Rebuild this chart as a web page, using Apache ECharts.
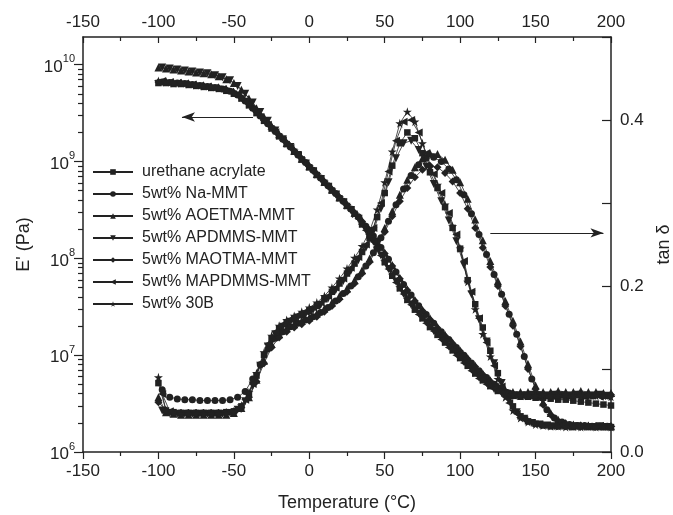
<!DOCTYPE html>
<html>
<head>
<meta charset="utf-8">
<script src="https://cdn.jsdelivr.net/npm/echarts@6/dist/echarts.min.js"></script>
<style>
html,body{margin:0;padding:0;background:#fff;}
#main{width:673px;height:515px;}
</style>
</head>
<body>
<div id="main"></div>
<script>
// temperature grids (two interleaved sample grids, deg C)
var tempsA = [-100,-95,-90,-85,-80,-75,-70,-65,-60,-55,-50,-45,-40,-35,-30,-25,-20,-15,-10,-5,0,5,10,15,20,25,30,35,40,45,50,55,60,65,70,75,80,85,90,95,100,105,110,115,120,125,130,135,140,145,150,155,160,165,170,175,180,185,190,195,200];
var tempsB = [-97.5,-92.5,-87.5,-82.5,-77.5,-72.5,-67.5,-62.5,-57.5,-52.5,-47.5,-42.5,-37.5,-32.5,-27.5,-22.5,-17.5,-12.5,-7.5,-2.5,2.5,7.5,12.5,17.5,22.5,27.5,32.5,37.5,42.5,47.5,52.5,57.5,62.5,67.5,72.5,77.5,82.5,87.5,92.5,97.5,102.5,107.5,112.5,117.5,122.5,127.5,132.5,137.5,142.5,147.5,152.5,157.5,162.5,167.5,172.5,177.5,182.5,187.5,192.5,197.5];

var names = ['urethane acrylate','5wt% Na-MMT','5wt% AOETMA-MMT','5wt% APDMMS-MMT','5wt% MAOTMA-MMT','5wt% MAPDMMS-MMT','5wt% 30B'];

// storage modulus E' (Pa)
var eUA = [6.46e9,6.46e9,6.31e9,6.31e9,6.17e9,6.03e9,5.89e9,5.75e9,5.62e9,5.37e9,5.01e9,4.47e9,3.80e9,3.16e9,2.63e9,2.19e9,1.82e9,1.51e9,1.26e9,1.05e9,8.71e8,7.24e8,6.03e8,5.01e8,4.17e8,3.47e8,2.88e8,2.24e8,1.70e8,1.26e8,9.12e7,6.61e7,4.90e7,3.72e7,2.95e7,2.40e7,1.95e7,1.62e7,1.35e7,1.12e7,9.33e6,7.76e6,6.46e6,5.50e6,4.79e6,4.27e6,3.98e6,3.80e6,3.72e6,3.72e6,3.63e6,3.63e6,3.55e6,3.47e6,3.47e6,3.39e6,3.31e6,3.24e6,3.16e6,3.09e6,3.02e6];
var eNa = [6.61e9,6.53e9,6.46e9,6.38e9,6.24e9,6.10e9,5.96e9,5.82e9,5.62e9,5.31e9,4.85e9,4.22e9,3.55e9,2.95e9,2.45e9,2.04e9,1.70e9,1.41e9,1.17e9,9.77e8,8.13e8,6.76e8,5.62e8,4.68e8,3.89e8,3.24e8,2.69e8,2.14e8,1.70e8,1.29e8,9.77e7,7.24e7,5.37e7,4.17e7,3.24e7,2.63e7,2.14e7,1.74e7,1.45e7,1.20e7,1.00e7,8.32e6,6.92e6,5.89e6,5.01e6,4.47e6,4.07e6,3.89e6,3.89e6,3.80e6,3.89e6,3.80e6,3.80e6,3.89e6,3.80e6,3.89e6,3.80e6,3.80e6,3.89e6,3.80e6];
var eAOETMA = [9.33e9,9.12e9,8.91e9,8.71e9,8.51e9,8.32e9,8.13e9,7.94e9,7.59e9,7.08e9,6.46e9,5.50e9,4.47e9,3.55e9,2.88e9,2.34e9,1.91e9,1.55e9,1.29e9,1.07e9,8.91e8,7.41e8,6.17e8,5.13e8,4.27e8,3.55e8,2.95e8,2.45e8,1.95e8,1.51e8,1.15e8,8.51e7,6.31e7,4.79e7,3.72e7,2.95e7,2.40e7,1.95e7,1.62e7,1.35e7,1.12e7,9.33e6,7.76e6,6.46e6,5.50e6,4.79e6,4.37e6,4.17e6,4.17e6,4.17e6,4.27e6,4.17e6,4.17e6,4.27e6,4.17e6,4.17e6,4.27e6,4.17e6,4.17e6,4.07e6,4.07e6];
var eAPDMMS = [9.33e9,9.12e9,8.91e9,8.71e9,8.51e9,8.32e9,8.13e9,7.76e9,7.41e9,6.92e9,6.03e9,5.01e9,4.07e9,3.24e9,2.63e9,2.09e9,1.70e9,1.41e9,1.17e9,9.55e8,7.94e8,6.61e8,5.50e8,4.57e8,3.80e8,3.16e8,2.57e8,1.95e8,1.48e8,1.07e8,7.76e7,5.75e7,4.27e7,3.31e7,2.69e7,2.19e7,1.78e7,1.48e7,1.23e7,1.02e7,8.51e6,7.08e6,5.89e6,5.13e6,4.47e6,4.07e6,3.89e6,3.80e6,3.80e6,3.89e6,3.80e6,3.80e6,3.89e6,3.80e6,3.80e6,3.89e6,3.80e6,3.80e6,3.89e6,3.80e6];
var eMAOTMA = [6.61e9,6.61e9,6.46e9,6.46e9,6.31e9,6.17e9,6.03e9,5.89e9,5.75e9,5.50e9,5.13e9,4.57e9,3.89e9,3.24e9,2.69e9,2.24e9,1.86e9,1.55e9,1.29e9,1.07e9,8.91e8,7.41e8,6.17e8,5.13e8,4.27e8,3.55e8,2.95e8,2.40e8,1.91e8,1.48e8,1.12e8,8.32e7,6.17e7,4.68e7,3.63e7,2.88e7,2.34e7,1.91e7,1.58e7,1.32e7,1.10e7,9.12e6,7.59e6,6.31e6,5.37e6,4.68e6,4.17e6,3.98e6,3.89e6,3.80e6,3.80e6,3.89e6,3.80e6,3.89e6,3.80e6,3.89e6,3.80e6,3.80e6,3.89e6,3.80e6,3.89e6];
var eMAPDMMS = [6.76e9,6.61e9,6.46e9,6.38e9,6.24e9,6.10e9,5.96e9,5.82e9,5.62e9,5.25e9,4.79e9,4.17e9,3.47e9,2.88e9,2.40e9,2.00e9,1.66e9,1.38e9,1.15e9,9.55e8,7.94e8,6.61e8,5.50e8,4.57e8,3.80e8,3.16e8,2.57e8,1.95e8,1.48e8,1.07e8,7.76e7,5.62e7,4.27e7,3.31e7,2.63e7,2.14e7,1.78e7,1.45e7,1.20e7,1.00e7,8.32e6,6.92e6,5.75e6,5.01e6,4.47e6,4.07e6,3.89e6,3.80e6,3.80e6,3.72e6,3.80e6,3.72e6,3.80e6,3.80e6,3.72e6,3.80e6,3.72e6,3.80e6,3.72e6,3.72e6];
var e30B = [6.76e9,6.61e9,6.46e9,6.46e9,6.31e9,6.17e9,6.03e9,5.89e9,5.75e9,5.50e9,5.13e9,4.57e9,3.89e9,3.24e9,2.69e9,2.24e9,1.86e9,1.55e9,1.29e9,1.07e9,8.91e8,7.41e8,6.17e8,5.13e8,4.27e8,3.55e8,2.88e8,2.29e8,1.74e8,1.29e8,9.33e7,6.76e7,5.01e7,3.80e7,3.02e7,2.45e7,2.00e7,1.66e7,1.38e7,1.15e7,9.55e6,7.94e6,6.61e6,5.62e6,4.90e6,4.37e6,4.07e6,3.89e6,3.80e6,3.80e6,3.80e6,3.89e6,3.80e6,3.80e6,3.89e6,3.80e6,3.80e6,3.89e6,3.80e6,3.80e6,3.72e6];

// loss factor tan delta
var tUA = [0.083,0.05,0.048,0.047,0.047,0.047,0.047,0.047,0.047,0.048,0.049,0.055,0.07,0.092,0.117,0.136,0.148,0.155,0.16,0.165,0.17,0.176,0.184,0.193,0.203,0.215,0.227,0.241,0.258,0.283,0.312,0.345,0.372,0.385,0.378,0.36,0.337,0.318,0.295,0.27,0.245,0.207,0.178,0.15,0.122,0.095,0.072,0.055,0.043,0.037,0.034,0.032,0.031,0.031,0.031,0.03,0.031,0.03,0.031,0.03,0.03];
var tNa = [0.075,0.066,0.064,0.063,0.063,0.062,0.062,0.062,0.062,0.063,0.066,0.073,0.088,0.105,0.124,0.137,0.145,0.151,0.155,0.159,0.163,0.168,0.174,0.182,0.191,0.2,0.211,0.224,0.24,0.258,0.278,0.298,0.317,0.333,0.346,0.354,0.355,0.35,0.341,0.328,0.31,0.287,0.262,0.238,0.214,0.19,0.166,0.142,0.115,0.088,0.066,0.051,0.041,0.036,0.033,0.032,0.032,0.031,0.031,0.031];
var tAOETMA = [0.066,0.048,0.046,0.045,0.045,0.045,0.045,0.045,0.045,0.045,0.047,0.053,0.066,0.087,0.11,0.13,0.142,0.149,0.154,0.158,0.162,0.167,0.173,0.18,0.188,0.197,0.207,0.219,0.233,0.25,0.27,0.29,0.31,0.328,0.343,0.354,0.36,0.359,0.352,0.34,0.325,0.305,0.28,0.255,0.23,0.206,0.182,0.158,0.133,0.106,0.08,0.06,0.047,0.039,0.035,0.033,0.032,0.032,0.031,0.031,0.031];
var tAPDMMS = [0.05,0.047,0.046,0.046,0.046,0.046,0.046,0.046,0.046,0.047,0.051,0.061,0.08,0.104,0.127,0.142,0.151,0.157,0.162,0.166,0.171,0.177,0.185,0.195,0.206,0.218,0.231,0.246,0.266,0.293,0.325,0.354,0.372,0.375,0.364,0.344,0.323,0.302,0.279,0.254,0.225,0.19,0.16,0.133,0.107,0.083,0.062,0.048,0.04,0.035,0.033,0.032,0.031,0.031,0.03,0.031,0.03,0.03,0.031,0.03];
var tMAOTMA = [0.06,0.05,0.048,0.047,0.047,0.047,0.047,0.047,0.047,0.048,0.049,0.054,0.066,0.085,0.107,0.126,0.138,0.145,0.15,0.154,0.158,0.163,0.169,0.176,0.184,0.193,0.203,0.215,0.229,0.246,0.265,0.284,0.302,0.318,0.331,0.34,0.345,0.343,0.336,0.326,0.312,0.293,0.27,0.246,0.223,0.2,0.176,0.152,0.127,0.1,0.076,0.057,0.045,0.037,0.034,0.032,0.032,0.031,0.031,0.031,0.031];
var tMAPDMMS = [0.07,0.049,0.047,0.047,0.047,0.047,0.047,0.047,0.047,0.048,0.052,0.063,0.082,0.107,0.13,0.145,0.154,0.16,0.165,0.169,0.174,0.18,0.188,0.198,0.209,0.222,0.235,0.25,0.27,0.3,0.338,0.375,0.398,0.4,0.385,0.36,0.335,0.312,0.288,0.262,0.23,0.193,0.161,0.132,0.104,0.079,0.059,0.046,0.039,0.035,0.033,0.032,0.031,0.031,0.031,0.03,0.031,0.03,0.031,0.03];
var t30B = [0.09,0.05,0.047,0.046,0.046,0.046,0.046,0.046,0.046,0.046,0.048,0.056,0.072,0.095,0.12,0.14,0.152,0.159,0.164,0.169,0.174,0.18,0.188,0.198,0.209,0.221,0.234,0.248,0.266,0.292,0.325,0.362,0.396,0.41,0.398,0.372,0.343,0.322,0.298,0.272,0.245,0.205,0.172,0.142,0.115,0.088,0.066,0.05,0.041,0.036,0.033,0.032,0.031,0.031,0.03,0.031,0.03,0.031,0.03,0.031,0.03];

var yTicksE = [1e6, 1e7, 1e8, 1e9, 1e10];
var yTicksTan = [0.0, 0.2, 0.4];

var starPath = 'path://M50,0 L61,35 L98,35 L68,57 L79,91 L50,70 L21,91 L32,57 L2,35 L39,35 Z';
var samples = [
    {name: names[0], symbol: 'rect', size: 6.5, rot: 0, temps: tempsA, e: eUA, t: tUA},
    {name: names[1], symbol: 'circle', size: 7, rot: 0, temps: tempsB, e: eNa, t: tNa},
    {name: names[2], symbol: 'triangle', size: 8, rot: 0, temps: tempsA, e: eAOETMA, t: tAOETMA},
    {name: names[3], symbol: 'triangle', size: 8, rot: 180, temps: tempsB, e: eAPDMMS, t: tAPDMMS},
    {name: names[4], symbol: 'diamond', size: 8, rot: 0, temps: tempsA, e: eMAOTMA, t: tMAOTMA},
    {name: names[5], symbol: 'triangle', size: 8, rot: 90, temps: tempsB, e: eMAPDMMS, t: tMAPDMMS},
    {name: names[6], symbol: starPath, size: 9, rot: 0, temps: tempsA, e: e30B, t: t30B}
];

var ink = '#222';
var font = 'Liberation Sans, Arial, sans-serif';
var eMax = 1.93e10;

// minor ticks of the log axis, in decades
var minorLog = [];
for (var d = 6; d <= 10; d++) {
    for (var k = 2; k <= 9; k++) {
        var v = d + Math.log10(k);
        if (v < Math.log10(eMax)) minorLog.push(v);
    }
}

var series = [];
samples.forEach(function (s, i) {
    var base = {
        name: s.name,
        type: 'line',
        symbol: s.symbol,
        symbolSize: s.size,
        symbolRotate: s.rot,
        lineStyle: {color: ink, width: 0.8},
        itemStyle: {color: ink},
        animation: false
    };
    series.push(Object.assign({}, base, {
        yAxisIndex: 0,
        data: s.temps.map(function (t, k) { return [t, s.e[k]]; })
    }));
    series.push(Object.assign({}, base, {
        yAxisIndex: 1,
        data: s.temps.map(function (t, k) { return [t, s.t[k]]; })
    }));
});

// arrows pointing to the axis each curve belongs to
series[0].markLine = {
    silent: true, symbol: ['none', 'arrow'], symbolSize: [7, 13],
    label: {show: false}, lineStyle: {color: ink, width: 1, type: 'solid'},
    data: [[{coord: [-37.3, 2.88e9]}, {coord: [-84.4, 2.88e9]}]]
};
series[1].markLine = {
    silent: true, symbol: ['none', 'arrow'], symbolSize: [7, 13],
    label: {show: false}, lineStyle: {color: ink, width: 1, type: 'solid'},
    data: [[{coord: [120, 0.264]}, {coord: [195, 0.264]}]]
};

var chart = echarts.init(document.getElementById('main'));
var option = {
    backgroundColor: '#fff',
    animation: false,
    textStyle: {fontFamily: font, color: ink},
    grid: {left: 83, right: 62, top: 37, bottom: 63, outerBoundsMode: 'none', containLabel: false},
    legend: {
        data: names,
        orient: 'vertical',
        left: 87,
        top: 158,
        itemWidth: 40,
        itemHeight: 7,
        itemGap: 4,
        textStyle: {fontFamily: font, fontSize: 16, color: ink, lineHeight: 18, padding: [0, 0, 0, 4]}
    },
    xAxis: [{
        type: 'value', position: 'bottom', min: -150, max: 200, interval: 50,
        name: 'Temperature (\u00B0C)', nameLocation: 'middle', nameGap: 42,
        nameTextStyle: {fontSize: 18, color: ink, fontFamily: font},
        axisLine: {show: true, onZero: false, lineStyle: {color: ink, width: 1.5}},
        axisTick: {show: true, inside: false, length: 7, lineStyle: {color: ink, width: 1.2}},
        minorTick: {show: true, splitNumber: 2, length: 4, lineStyle: {color: ink, width: 1.2}},
        axisLabel: {fontSize: 17, color: ink, margin: 11, fontFamily: font},
        splitLine: {show: false}
    }, {
        type: 'value', position: 'top', min: -150, max: 200, interval: 50,
        axisLine: {show: true, onZero: false, lineStyle: {color: ink, width: 1.5}},
        axisTick: {show: true, inside: true, length: 6, lineStyle: {color: ink, width: 1.2}},
        minorTick: {show: true, splitNumber: 2, length: 4, lineStyle: {color: ink, width: 1.2}},
        axisLabel: {fontSize: 17, color: ink, margin: 6, fontFamily: font},
        splitLine: {show: false}
    }],
    yAxis: [{
        type: 'log', logBase: 10, min: 1e6, max: eMax, position: 'left',
        name: "E' (Pa)", nameLocation: 'middle', nameGap: 48,
        nameTextStyle: {fontSize: 18, color: ink, fontFamily: font},
        axisLine: {show: true, onZero: false, lineStyle: {color: ink, width: 1.5}},
        axisTick: {show: true, inside: false, length: 9, lineStyle: {color: ink, width: 1.2},
                   customValues: yTicksE},
        axisLabel: {
            customValues: yTicksE,
            margin: 8,
            formatter: function (v) {
                var p = Math.round(Math.log10(v));
                if (Math.abs(Math.log10(v) - p) > 1e-6) return '';
                return '{b|10}{s|' + p + '}';
            },
            rich: {
                b: {fontSize: 17, color: ink, fontFamily: font, lineHeight: 22, verticalAlign: 'bottom'},
                s: {fontSize: 11, color: ink, fontFamily: font, lineHeight: 22, verticalAlign: 'top', padding: [0, 0, 6, 0]}
            }
        },
        splitLine: {show: false}
    }, {
        type: 'value', position: 'right', min: 0, max: 0.5, interval: 0.1,
        name: 'tan \u03B4', nameLocation: 'middle', nameGap: 42,
        nameTextStyle: {fontSize: 18, color: ink, fontFamily: font},
        axisLine: {show: true, onZero: false, lineStyle: {color: ink, width: 1.5}},
        axisTick: {show: true, inside: true, length: 9, lineStyle: {color: ink, width: 1.2}},
        axisLabel: {
            fontSize: 17, color: ink, margin: 9, fontFamily: font,
            formatter: function (v) {
                var r = Math.round(v * 10) / 10;
                for (var i = 0; i < yTicksTan.length; i++) {
                    if (Math.abs(yTicksTan[i] - r) < 1e-9) return r.toFixed(1);
                }
                return '';
            }
        },
        splitLine: {show: false}
    }, {
        // minor ticks for the log axis (decades)
        type: 'value', position: 'left', min: 6, max: Math.log10(eMax),
        axisLine: {show: false, onZero: false},
        axisTick: {show: true, inside: false, length: 5, lineStyle: {color: ink, width: 1.2},
                   customValues: minorLog},
        axisLabel: {show: false},
        splitLine: {show: false}
    }],
    series: series
};
chart.setOption(option);
</script>
</body>
</html>
